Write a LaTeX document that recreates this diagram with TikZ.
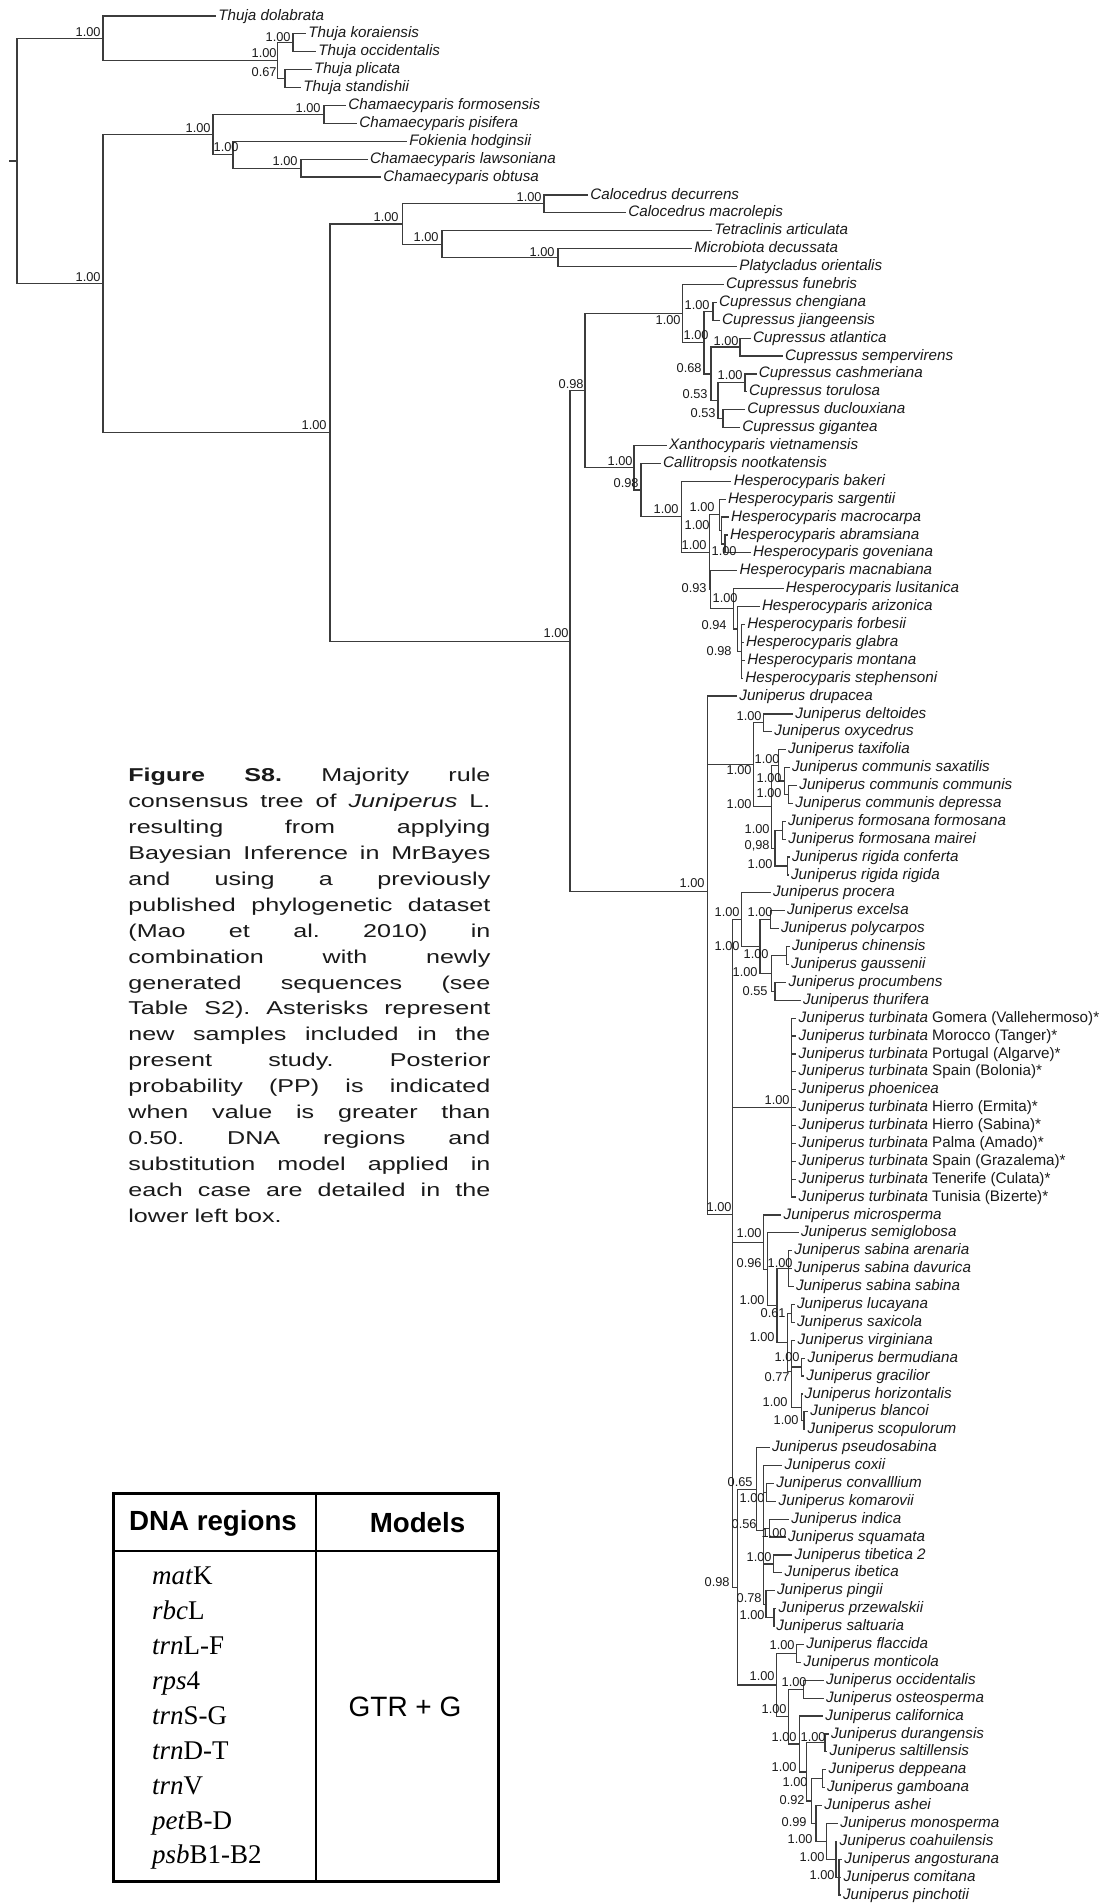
\documentclass[tikz,border=0pt]{standalone}
\usepackage{fontspec}
\setmainfont{Liberation Sans}
\newfontfamily\capfont[FakeStretch=1.35]{Liberation Sans}
\newfontfamily\tabserif{Liberation Serif}
\definecolor{phyInk}{HTML}{3c3c3c}
\definecolor{phyText}{HTML}{1a1a1a}
\tikzset{
  branch/.style={draw=phyInk, line width=0.6pt},
  leaf/.style={anchor=west, inner xsep=1pt, inner ysep=0pt, text height=5.5pt,
              text depth=1.4pt, text=phyText, font=\fontsize{7.6}{8.5}\selectfont\itshape},
  pp/.style={anchor=east, inner sep=0pt, text height=4.6pt, text depth=0pt,
              text=phyText, font=\fontsize{6.4}{7}\selectfont},
  figcap/.style={anchor=north west, inner sep=0pt, text width=181pt, align=left,
              text=phyText, font=\capfont\fontsize{9.3}{12.95}\selectfont\frenchspacing},
  tabframe/.style={draw=black, line width=1.75pt},
  tabrule/.style={draw=black, line width=0.65pt},
  tabhead/.style={inner sep=0pt, font=\fontsize{13.85}{16}\selectfont\bfseries},
  region/.style={anchor=base west, inner sep=0pt, font=\tabserif\fontsize{13.5}{16}\selectfont},
  tabcell/.style={inner sep=0pt, font=\fontsize{14}{16}\selectfont},
}
% clade node: y = mean of its children, elbow branches to each child
\newdimen\cladeacc
\newdimen\cladeyy
\newcount\cladenum
\newcommand\clade[3]{%
  \global\cladeacc=0pt \global\cladenum=0
  \foreach \c in {#3}{%
    \pgfextracty{\cladeyy}{\pgfpointanchor{\c}{center}}%
    \global\advance\cladeacc by \cladeyy
    \global\advance\cladenum by 1
  }%
  \divide\cladeacc by \cladenum
  \coordinate (#1-m) at (0pt,\the\cladeacc);
  \coordinate (#1) at (#2,0 |- #1-m);
  \foreach \c in {#3}{\draw[branch] (#1) |- (\c);}
}
% one justified caption line
\newcommand\capline[1]{\makebox[181pt][s]{\frenchspacing
  \spaceskip=\fontdimen2\font plus 1fil\xspaceskip=\spaceskip\relax #1}\\}

\begin{document}
\begin{tikzpicture}[x=0.5pt,y=-0.5pt]
  \fill[white] (0,0) rectangle (1105,1904);
  \useasboundingbox (0,0) rectangle (1105,1904);

  % taxa, evenly spaced
  \foreach \nm/\tip/\txt [count=\i from 0] in {
    tdol/216/Thuja dolabrata, tkor/306/Thuja koraiensis, tocc/316/Thuja occidentalis,
    tpli/311.6/Thuja plicata, tsta/301/Thuja standishii,
    cfor/346/Chamaecyparis formosensis, cpis/357/Chamaecyparis pisifera,
    fhod/407/Fokienia hodginsii, claw/367.6/Chamaecyparis lawsoniana,
    cobt/381/Chamaecyparis obtusa, cdec/588/Calocedrus decurrens,
    cmac/626/Calocedrus macrolepis, tart/712/Tetraclinis articulata,
    mdec/692/Microbiota decussata, pori/737/Platycladus orientalis,
    cfun/723.7/Cupressus funebris, cche/716.7/Cupressus chengiana,
    cjia/719.8/Cupressus jiangeensis, catl/750.7/Cupressus atlantica,
    csem/782.7/Cupressus sempervirens, ccas/756.5/Cupressus cashmeriana,
    ctor/746.8/Cupressus torulosa, cduc/744.9/Cupressus duclouxiana,
    cgig/739.9/Cupressus gigantea, xvie/666.6/Xanthocyparis vietnamensis,
    cnoo/660.8/Callitropsis nootkatensis, hbak/731.4/Hesperocyparis bakeri,
    hsar/725.6/Hesperocyparis sargentii, hmac/728.7/Hesperocyparis macrocarpa,
    habr/727.6/Hesperocyparis abramsiana, hgov/750.7/Hesperocyparis goveniana,
    hmcn/737.2/Hesperocyparis macnabiana, hlus/783.5/Hesperocyparis lusitanica,
    hari/759.6/Hesperocyparis arizonica, hfor/744.9/Hesperocyparis forbesii,
    hgla/743.8/Hesperocyparis glabra, hmon/744.9/Hesperocyparis montana,
    hste/743/Hesperocyparis stephensoni, jdru/737/Juniperus drupacea,
    jdel/793/Juniperus deltoides, joxy/772/Juniperus oxycedrus,
    jtax/785.7/Juniperus taxifolia, jsax/789.7/Juniperus communis saxatilis,
    jcom/797/Juniperus communis communis, jdep/793/Juniperus communis depressa,
    jfof/785.7/Juniperus formosana formosana, jfom/786/Juniperus formosana mairei,
    jric/789.7/Juniperus rigida conferta, jrir/788.7/Juniperus rigida rigida,
    jpro/770.7/Juniperus procera, jexc/784.7/Juniperus excelsa,
    jpol/778.7/Juniperus polycarpos, jchi/789.7/Juniperus chinensis,
    jgau/788.7/Juniperus gaussenii, jprc/786.3/Juniperus procumbens,
    jthu/800.7/Juniperus thurifera,
    tgom/796.3/{Juniperus turbinata \upshape Gomera (Vallehermoso)*},
    tmor/796.3/{Juniperus turbinata \upshape Morocco (Tanger)*},
    tpor/796.3/{Juniperus turbinata \upshape Portugal (Algarve)*},
    tbol/796.3/{Juniperus turbinata \upshape Spain (Bolonia)*},
    jpho/796.3/Juniperus phoenicea,
    term/796.3/{Juniperus turbinata \upshape Hierro (Ermita)*},
    tsab/796.3/{Juniperus turbinata \upshape Hierro (Sabina)*},
    tpal/796.3/{Juniperus turbinata \upshape Palma (Amado)*},
    tgra/796.3/{Juniperus turbinata \upshape Spain (Grazalema)*},
    tten/796.3/{Juniperus turbinata \upshape Tenerife (Culata)*},
    ttun/796.3/{Juniperus turbinata \upshape Tunisia (Bizerte)*},
    jmic/781.3/Juniperus microsperma, jsem/798.7/Juniperus semiglobosa,
    jsar/792/Juniperus sabina arenaria, jsda/792/Juniperus sabina davurica,
    jsas/793.7/Juniperus sabina sabina, jluc/794.7/Juniperus lucayana,
    jsxc/794.7/Juniperus saxicola, jvir/795.3/Juniperus virginiana,
    jber/805.3/Juniperus bermudiana, jgrc/804/Juniperus gracilior,
    jhor/802.3/Juniperus horizontalis, jbla/808/Juniperus blancoi,
    jsco/805.3/Juniperus scopulorum, jpse/769.7/Juniperus pseudosabina,
    jcox/782.3/Juniperus coxii, jcnv/774/Juniperus convalllium,
    jkom/776.3/Juniperus komarovii, jind/789/Juniperus indica,
    jsqu/785.7/Juniperus squamata, jtib/792.3/Juniperus tibetica 2,
    jibe/782.3/Juniperus ibetica, jpin/774.7/Juniperus pingii,
    jprz/776.3/Juniperus przewalskii, jsal/774/Juniperus saltuaria,
    jfla/804/Juniperus flaccida, jmtc/801.3/Juniperus monticola,
    jocc/823.7/Juniperus occidentalis, jost/823.7/Juniperus osteosperma,
    jcal/823/Juniperus californica, jdur/828.7/Juniperus durangensis,
    jslt/827.3/Juniperus saltillensis, jdpp/826.3/Juniperus deppeana,
    jgam/824.7/Juniperus gamboana, jash/822/Juniperus ashei,
    jmno/838/Juniperus monosperma, jcoa/837.3/Juniperus coahuilensis,
    jang/842/Juniperus angosturana, jcmt/841.3/Juniperus comitana,
    jpnc/840.7/Juniperus pinchotii}
    \node[leaf] (\nm) at (\tip,{16+17.895*\i}) {\txt};

  % Thuja, Chamaecyparis, Calocedrus ...
  \clade{nko}{293}{tkor,tocc}
  \clade{npl}{285}{tpli,tsta}
  \clade{nth2}{277.5}{nko,npl}
  \clade{nthuja}{103}{tdol,nth2}
  \clade{ncf}{324}{cfor,cpis}
  \clade{nlaw}{301}{claw,cobt}
  \clade{nfok}{233}{fhod,nlaw}
  \clade{ncham}{213}{ncf,nfok}
  \clade{ncalo}{544}{cdec,cmac}
  \clade{nmic}{558}{mdec,pori}
  \clade{ntet}{442}{tart,nmic}
  \clade{ncal}{402.5}{ncalo,ntet}
  % Cupressus
  \clade{nchj}{713}{cche,cjia}
  \clade{nas}{740}{catl,csem}
  \clade{nct}{745}{ccas,ctor}
  \clade{ndg}{723}{cduc,cgig}
  \clade{nctdg}{718}{nct,ndg}
  \clade{nasctdg}{711}{nas,nctdg}
  \clade{nc2}{704}{nchj,nasctdg}
  \clade{ncup}{682.5}{cfun,nc2}
  % Hesperocyparis
  \clade{nag}{725}{habr,hgov}
  \clade{nh5}{721.7}{hmac,nag}
  \clade{nh3}{719.3}{hsar,nh5}
  \clade{nh8}{741.5}{hfor,hgla,hmon,hste}
  \clade{nh7}{737.3}{hari,nh8}
  \clade{nh6}{733.3}{hlus,nh7}
  \clade{nh4}{710.7}{hmcn,nh6}
  \clade{nh2}{709.3}{nh3,nh4}
  \clade{nhesp}{681.7}{hbak,nh2}
  \clade{ncal2}{641}{cnoo,nhesp}
  \clade{nxan}{634}{xvie,ncal2}
  \clade{n098}{585}{ncup,nxan}
  % Juniperus
  \clade{ndo}{763.3}{jdel,joxy}
  \clade{ncd}{788.3}{jcom,jdep}
  \clade{nscd}{784.3}{jsax,ncd}
  \clade{ntax}{778.3}{jtax,nscd}
  \clade{nff}{782.7}{jfof,jfom}
  \clade{nrr}{787.3}{jric,jrir}
  \clade{nfr}{775}{nff,nrr}
  \clade{ncomm}{771.7}{ntax,nfr}
  \clade{nj1}{753.3}{ndo,ncomm}
  \clade{nep}{770.7}{jexc,jpol}
  \clade{ncg}{786.7}{jchi,jgau}
  \clade{npt}{775}{jprc,jthu}
  \clade{ncgpt}{771.7}{ncg,npt}
  \clade{nepcgpt}{760}{nep,ncgpt}
  \clade{nsab1}{741.7}{jpro,nepcgpt}
  \clade{ntur}{791.7}{tgom,tmor,tpor,tbol,jpho,term,tsab,tpal,tgra,tten,ttun}
  \clade{nsabina}{788.3}{jsar,jsda,jsas}
  \clade{nls}{791.5}{jluc,jsxc}
  \clade{nbg}{801.7}{jber,jgrc}
  \clade{nbs}{804}{jbla,jsco}
  \clade{nhbs}{801.7}{jhor,nbs}
  \clade{nvirg}{791.7}{jvir,nbg,nhbs}
  \clade{nx4}{787.3}{nls,nvirg}
  \clade{nx3}{777}{nsabina,nx4}
  \clade{nx2}{767.3}{jsem,nx3}
  \clade{nx}{763.3}{jmic,nx2}
  \clade{nck}{766.7}{jcnv,jkom}
  \clade{nis}{769.3}{jind,jsqu}
  \clade{nti}{773.3}{jtib,jibe}
  \clade{nps}{774}{jprz,jsal}
  \clade{npps}{766}{jpin,nps}
  \clade{ny3}{763.3}{jcox,nck,nis,nti,npps}
  \clade{ny1}{756.7}{jpse,ny3}
  \clade{nfm}{796.7}{jfla,jmtc}
  \clade{noo}{803.3}{jocc,jost}
  \clade{nds}{825}{jdur,jslt}
  \clade{ndg2}{822.7}{jdpp,jgam}
  \clade{nc5}{839}{jang,jcmt,jpnc}
  \clade{nc4}{836}{jcoa,nc5}
  \clade{nc3}{826.7}{jmno,nc4}
  \clade{nc2j}{816}{jash,nc3}
  \clade{ny7}{811.7}{ndg2,nc2j}
  \clade{ny6}{806.7}{nds,ny7}
  \clade{ny5}{799.3}{jcal,ny6}
  \clade{ny4}{788.3}{noo,ny5}
  \clade{ny2}{776.7}{nfm,ny4}
  \clade{ny}{737.3}{ny1,ny2}
  \clade{njb}{732.3}{nsab1,ntur,nx,ny}
  \clade{njun}{707.7}{jdru,nj1,njb}
  % backbone
  \clade{ncj}{570}{n098,njun}
  \clade{ncalbig}{330}{ncal,ncj}
  \clade{nrest}{103}{ncham,ncalbig}
  \clade{root}{17}{nthuja,nrest}
  \coordinate (rootstub) at (9,0 |- root);
  \draw[branch] (rootstub) -- (root);

  % posterior probabilities
  \foreach \n/\x/\y/\v in {
    nthuja/101/32/1.00, nth2/277/53/1.00, nko/291/37/1.00, npl/277/72/0.67,
    nrest/101/277/1.00, ncham/211/128/1.00, ncf/321/108/1.00, nfok/239/147/1.00,
    nlaw/298/161/1.00, ncalbig/327/425/1.00, ncal/399/217/1.00, ncalo/542/197/1.00,
    ntet/439/237/1.00, nmic/555/252/1.00, ncj/569/633/1.00, n098/584/384/0.98,
    ncup/681/320/1.00, nchj/710/305/1.00, nc2/709/335/1.00, nas/739/341/1.00,
    nasctdg/702/368/0.68, nct/743/375/1.00, nctdg/708/394/0.53, ndg/716/413/0.53,
    nxan/633/461/1.00, ncal2/639/483/0.98, nhesp/679/509/1.00, nh3/715/507/1.00,
    nh5/710/525/1.00, nag/737/551/1.00, nh2/707/545/1.00, nh4/707/588/0.93,
    nh6/738/598/1.00, nh7/727/625/0.94, nh8/732/651/0.98,
    njun/705/883/1.00, ndo/762/716/1.00, nj1/752/770/1.00, ntax/780/759/1.00,
    nscd/782/778/1.00, ncd/782/793/1.00, ncomm/752/804/1.00, nff/770/829/1.00,
    nfr/770/845/{0,98}, nrr/773/864/1.00, nsab1/740/912/1.00, nep/773/912/1.00,
    nepcgpt/740/946/1.00, ncg/769/954/1.00, ncgpt/758/972/1.00, npt/768/991/0.55,
    njb/732/1207/1.00, ntur/790/1100/1.00, nx/762/1233/1.00, nx2/762/1263/0.96,
    nsabina/793/1263/1.00, nx3/765/1300/1.00, nls/786/1313/0.61, nx4/775/1337/1.00,
    nbg/800/1357/1.00, nvirg/790/1377/0.77, nhbs/788/1402/1.00, nbs/799/1420/1.00,
    ny/730/1582/0.98, ny1/753/1482/0.65, ny3/757/1524/0.56, nck/765/1498/1.00,
    nis/787/1533/1.00, nti/772/1557/1.00, npps/762/1598/0.78, nps/765/1615/1.00,
    ny2/775/1676/1.00, nfm/795/1645/1.00, ny4/787/1709/1.00, noo/807/1682/1.00,
    ny5/797/1737/1.00, nds/826/1737/1.00, ny6/797/1767/1.00, ndg2/808/1782/1.00,
    ny7/805/1800/0.92, nc2j/807/1822/0.99, nc3/813/1839/1.00, nc4/825/1857/1.00,
    nc5/835/1875/1.00}
    \node[pp] (l-\n) at (\x,\y) {\v};

  % caption
  \node[figcap] (cap) at (128,768) {%
    \capline{\textbf{Figure S8.} Majority rule}
    \capline{consensus tree of \textit{Juniperus} L.}
    \capline{resulting from applying}
    \capline{Bayesian Inference in MrBayes}
    \capline{and using a previously}
    \capline{published phylogenetic dataset}
    \capline{(Mao et al. 2010) in}
    \capline{combination with newly}
    \capline{generated sequences (see}
    \capline{Table S2). Asterisks represent}
    \capline{new samples included in the}
    \capline{present study. Posterior}
    \capline{probability (PP) is indicated}
    \capline{when value is greater than}
    \capline{0.50. DNA regions and}
    \capline{substitution model applied in}
    \capline{each case are detailed in the}
    lower left box.};

  % DNA regions / models box
  \draw[tabrule] (316,1493.3) -- (316,1881.7);
  \draw[tabrule] (113.3,1551) -- (498.3,1551);
  \draw[tabframe] (113.3,1493.3) rectangle (498.3,1881.7);
  \node[tabhead] (hdna) at (213,1523) {DNA regions};
  \node[tabhead] (hmod) at (417.5,1523) {Models};
  \foreach \r [count=\k from 0] in {\textit{mat}K, \textit{rbc}L, \textit{trn}L-F,
      \textit{rps}4, \textit{trn}S-G, \textit{trn}D-T, \textit{trn}V,
      \textit{pet}B-D, \textit{psb}B1-B2}
    \node[region] (reg\k) at (151.7,{1584.7+34.9*\k}) {\r};
  \node[tabcell] (gtr) at (405,1706.7) {GTR + G};
\end{tikzpicture}
\end{document}
